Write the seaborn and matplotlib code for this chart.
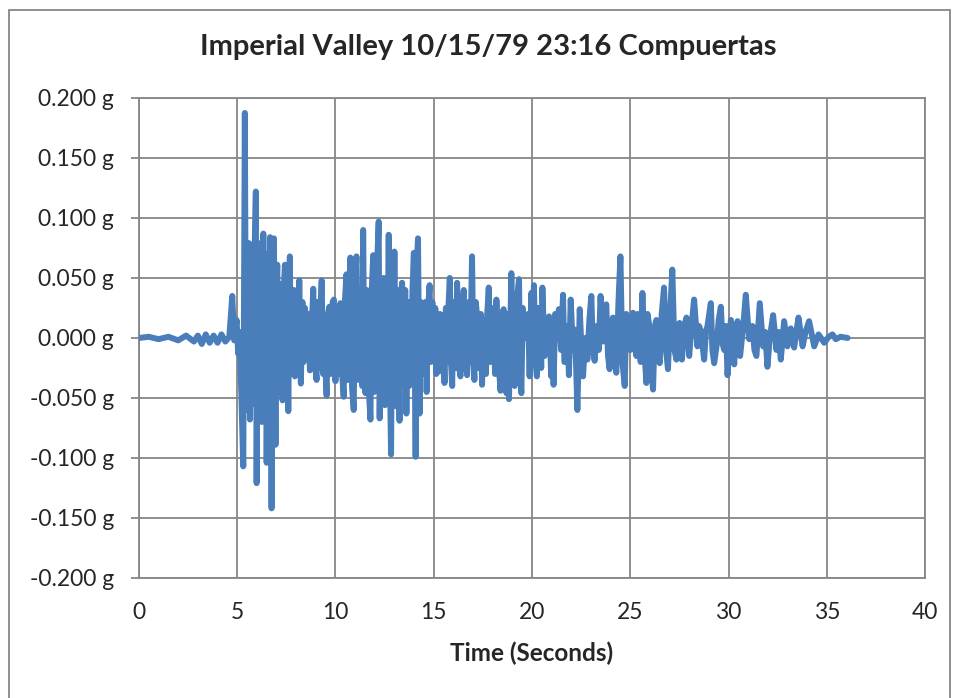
import numpy as np
import pandas as pd
import matplotlib
matplotlib.use("Agg")
import matplotlib.pyplot as plt
import seaborn as sns
from matplotlib.ticker import FuncFormatter
from matplotlib.patches import Rectangle

# ---- Data (time in s, acceleration in g) ----
time_s = [
    0.0, 0.5, 1.0, 1.5, 2.0, 2.4, 2.8, 3.0, 3.2, 3.4, 3.6, 3.8, 4.0, 4.2, 4.4, 4.6,
    4.75, 4.85, 4.97, 5.05, 5.12, 5.2, 5.31, 5.39, 5.45, 5.5, 5.57, 5.6, 5.65, 5.72,
    5.8, 5.87, 5.95, 5.99, 6.05, 6.1, 6.18, 6.25, 6.33, 6.4, 6.45, 6.5, 6.58, 6.62,
    6.67, 6.75, 6.82, 6.87, 6.95, 7.0, 7.04, 7.1, 7.17, 7.24, 7.31, 7.37, 7.43, 7.5,
    7.55, 7.6, 7.68, 7.73, 7.8, 7.89, 7.94, 8.0, 8.08, 8.16, 8.24, 8.32, 8.38, 8.45,
    8.55, 8.62, 8.7, 8.8, 8.87, 8.95, 9.04, 9.1, 9.17, 9.23, 9.3, 9.37, 9.42, 9.48,
    9.55, 9.62, 9.69, 9.75, 9.8, 9.86, 9.92, 10.0, 10.06, 10.12, 10.19, 10.25, 10.32,
    10.42, 10.48, 10.56, 10.62, 10.7, 10.76, 10.84, 10.93, 11.0, 11.07, 11.13, 11.19,
    11.25, 11.3, 11.36, 11.41, 11.47, 11.53, 11.59, 11.65, 11.72, 11.78, 11.85, 11.92,
    11.97, 12.05, 12.12, 12.2, 12.25, 12.32, 12.38, 12.45, 12.52, 12.58, 12.64, 12.71,
    12.78, 12.83, 12.89, 12.95, 13.0, 13.05, 13.1, 13.14, 13.18, 13.26, 13.32, 13.39,
    13.45, 13.5, 13.55, 13.61, 13.68, 13.75, 13.8, 13.85, 13.92, 13.99, 14.08, 14.14,
    14.2, 14.28, 14.34, 14.4, 14.45, 14.52, 14.58, 14.64, 14.7, 14.79, 14.86, 14.93,
    15.0, 15.08, 15.13, 15.2, 15.26, 15.32, 15.38, 15.43, 15.5, 15.55, 15.62, 15.7,
    15.76, 15.82, 15.88, 15.94, 16.0, 16.05, 16.12, 16.19, 16.26, 16.36, 16.44, 16.53,
    16.6, 16.7, 16.78, 16.85, 16.95, 17.02, 17.07, 17.14, 17.21, 17.28, 17.35, 17.4,
    17.46, 17.53, 17.6, 17.66, 17.72, 17.8, 17.88, 17.97, 18.05, 18.12, 18.19, 18.3,
    18.4, 18.48, 18.56, 18.63, 18.7, 18.77, 18.83, 18.95, 19.03, 19.12, 19.22, 19.34,
    19.4, 19.46, 19.53, 19.6, 19.71, 19.8, 19.88, 19.97, 20.02, 20.1, 20.18, 20.25,
    20.33, 20.4, 20.47, 20.53, 20.64, 20.75, 20.87, 20.98, 21.05, 21.1, 21.18, 21.25,
    21.37, 21.48, 21.58, 21.65, 21.71, 21.8, 21.88, 21.97, 22.08, 22.17, 22.24, 22.31,
    22.43, 22.52, 22.6, 22.7, 22.82, 22.92, 23.02, 23.1, 23.19, 23.3, 23.4, 23.49,
    23.61, 23.7, 23.78, 23.87, 23.95, 24.05, 24.12, 24.2, 24.29, 24.4, 24.5, 24.6,
    24.72, 24.8, 24.89, 25.0, 25.07, 25.14, 25.22, 25.31, 25.38, 25.45, 25.53, 25.62,
    25.72, 25.82, 25.88, 25.95, 26.05, 26.16, 26.25, 26.33, 26.42, 26.5, 26.6, 26.72,
    26.82, 26.92, 27.03, 27.14, 27.25, 27.35, 27.43, 27.51, 27.63, 27.75, 27.86, 28.0,
    28.12, 28.25, 28.42, 28.5, 28.59, 28.76, 28.85, 28.93, 29.1, 29.18, 29.27, 29.39,
    29.5, 29.61, 29.7, 29.78, 29.87, 29.95, 30.12, 30.29, 30.38, 30.46, 30.59, 30.75,
    30.88, 31.05, 31.22, 31.32, 31.42, 31.59, 31.76, 31.87, 31.98, 32.1, 32.27, 32.44,
    32.55, 32.66, 32.83, 33.0, 33.17, 33.34, 33.45, 33.56, 33.77, 33.92, 34.1, 34.36,
    34.58, 34.87, 35.1, 35.29, 35.46, 35.7, 36.06,
]
accel_g = [
    0.000, 0.001, -0.001, 0.001, -0.002, 0.002, -0.003, 0.002, -0.005, 0.003, -0.004, 0.002, -0.004, 0.003, -0.003, 0.001,
    0.035, -0.002, 0.015, -0.013, 0.005, -0.040, -0.107, 0.1875, -0.060, 0.075, -0.050, 0.079, -0.068, 0.040,
    -0.055, 0.060, 0.122, -0.121, 0.070, -0.065, 0.079, -0.070, 0.087, -0.050, 0.060, -0.104, 0.070, -0.060,
    0.084, -0.142, 0.070, 0.083, -0.089, 0.040, 0.061, -0.045, 0.045, -0.030, -0.052, 0.040, 0.061, -0.041,
    0.030, -0.061, 0.068, -0.030, 0.035, 0.040, -0.032, 0.020, -0.025, 0.048, -0.038, 0.030, -0.020, 0.025,
    -0.010, 0.020, -0.027, 0.010, 0.041, -0.020, -0.035, 0.030, -0.025, 0.020, 0.048, -0.030, 0.010, -0.020,
    -0.048, 0.020, 0.026, -0.030, -0.020, 0.030, 0.032, -0.036, 0.025, 0.010, -0.030, 0.029, -0.025,
    -0.049, 0.030, 0.053, -0.035, 0.040, 0.067, -0.040, -0.060, 0.045, 0.068, -0.030, -0.035,
    0.040, 0.030, -0.040, 0.090, -0.030, -0.046, 0.040, 0.020, -0.050, -0.068, 0.040, 0.069,
    -0.045, -0.030, 0.060, 0.097, -0.067, 0.040, -0.040, 0.050, -0.056, 0.040, -0.030, 0.086,
    -0.040, -0.097, 0.060, -0.040, 0.072, -0.030, -0.057, 0.040, 0.030, -0.069, 0.030, 0.046,
    -0.040, -0.020, 0.040, -0.063, 0.030, -0.040, 0.030, -0.030, 0.040, 0.071, -0.099, 0.060,
    0.083, -0.063, 0.030, -0.030, 0.024, -0.020, 0.030, -0.045, 0.020, 0.044, -0.020, 0.030,
    -0.010, 0.025, -0.030, 0.019, -0.028, 0.020, -0.020, 0.019, -0.010, -0.0375, 0.025, -0.020,
    0.030, 0.050, -0.020, -0.040, 0.030, 0.010, -0.025, 0.046, -0.020, -0.032, 0.025, 0.040,
    -0.020, -0.031, 0.030, -0.020, 0.068, -0.020, -0.035, 0.030, 0.018, -0.025, -0.010, 0.020,
    -0.039, 0.015, 0.000, -0.030, 0.019, 0.042, -0.020, -0.018, 0.025, -0.030, 0.032, -0.020,
    -0.044, 0.020, 0.024, -0.030, -0.046, 0.020, -0.051, 0.054, -0.020, -0.040, 0.030, 0.049,
    -0.030, -0.046, 0.025, 0.010, 0.000, 0.020, -0.032, 0.0375, -0.010, 0.044, -0.020, -0.032,
    0.025, 0.010, -0.025, 0.042, -0.015, 0.000, 0.018, -0.032, 0.000, -0.039, 0.020, 0.010,
    0.024, -0.010, 0.036, -0.020, -0.018, 0.010, -0.031, 0.032, -0.010, 0.007, -0.020, -0.060,
    0.024, -0.010, -0.032, 0.000, -0.018, 0.015, 0.035, -0.010, -0.019, 0.010, -0.010, 0.035,
    -0.003, 0.020, 0.028, -0.015, -0.026, 0.010, 0.017, -0.010, -0.029, 0.030, 0.068, -0.020,
    -0.040, 0.020, 0.004, -0.010, 0.015, 0.021, -0.005, -0.015, 0.020, 0.010, -0.020, 0.0375,
    -0.010, -0.0375, 0.020, 0.0125, -0.020, -0.043, 0.010, 0.015, -0.015, -0.021, 0.020, 0.042,
    -0.010, -0.026, 0.020, 0.057, -0.010, -0.018, 0.010, 0.0125, -0.018, 0.010, 0.017, -0.015,
    0.010, 0.032, -0.007, 0.010, 0.006, -0.018, 0.005, 0.010, 0.029, -0.010, -0.021, -0.007,
    0.015, 0.026, -0.005, -0.010, 0.010, -0.031, 0.015, -0.022, 0.005, 0.014, -0.015, 0.010,
    0.036, -0.001, 0.010, -0.010, -0.015, 0.029, -0.007, 0.005, -0.024, 0.000, 0.019, -0.010,
    0.005, -0.018, 0.014, -0.007, 0.008, -0.008, 0.005, 0.017, -0.007, 0.005, 0.014, -0.007,
    0.003, -0.004, 0.001, 0.003, -0.001, 0.001, 0.000,
]

x_ticks = [0, 5, 10, 15, 20, 25, 30, 35, 40]
y_ticks = [-0.2, -0.15, -0.1, -0.05, 0.0, 0.05, 0.1, 0.15, 0.2]

df = pd.DataFrame({"Time": time_s, "Accel": accel_g})

sns.set_style("white")
plt.rcParams["font.family"] = ["Lato", "DejaVu Sans"]

fig = plt.figure(figsize=(9.58, 6.98), dpi=100)
ax = fig.add_axes([0.145, 0.172, 0.8206, 0.6876])

grid_col = "#868686"
sns.lineplot(data=df, x="Time", y="Accel", ax=ax, color="#4A7EBB",
             linewidth=4.3, estimator=None, sort=False, zorder=3)

ax.set_xlim(0, 40)
ax.set_ylim(-0.2, 0.2)
ax.set_xticks(x_ticks)
ax.set_yticks(y_ticks)
ax.yaxis.set_major_formatter(FuncFormatter(lambda v, _: f"{v:.3f} g".replace("\u2212", "-")))
ax.grid(True, color=grid_col, linewidth=1.3)
ax.set_axisbelow(True)
for s in ax.spines.values():
    s.set_color(grid_col)
    s.set_linewidth(1.3)
ax.tick_params(axis="y", which="major", length=6, width=1.3, color=grid_col,
               labelsize=16.5, pad=12, left=True)
ax.tick_params(axis="x", which="major", length=0, labelsize=16.5, pad=17)

ax.set_xlabel("Time (Seconds)", fontsize=17.5, fontweight="bold", labelpad=14)
ax.set_ylabel("")

fig.text(0.51, 0.933, "Imperial Valley 10/15/79 23:16 Compuertas",
         ha="center", va="center", fontsize=21, fontweight="bold")

# outer chart border
fig.patches.append(Rectangle((9 / 958, -0.02), 941 / 958, 1.02 - 10 / 698,
                             transform=fig.transFigure, fill=False,
                             edgecolor=grid_col, linewidth=1.3))

fig.savefig("out.png", dpi=100)
